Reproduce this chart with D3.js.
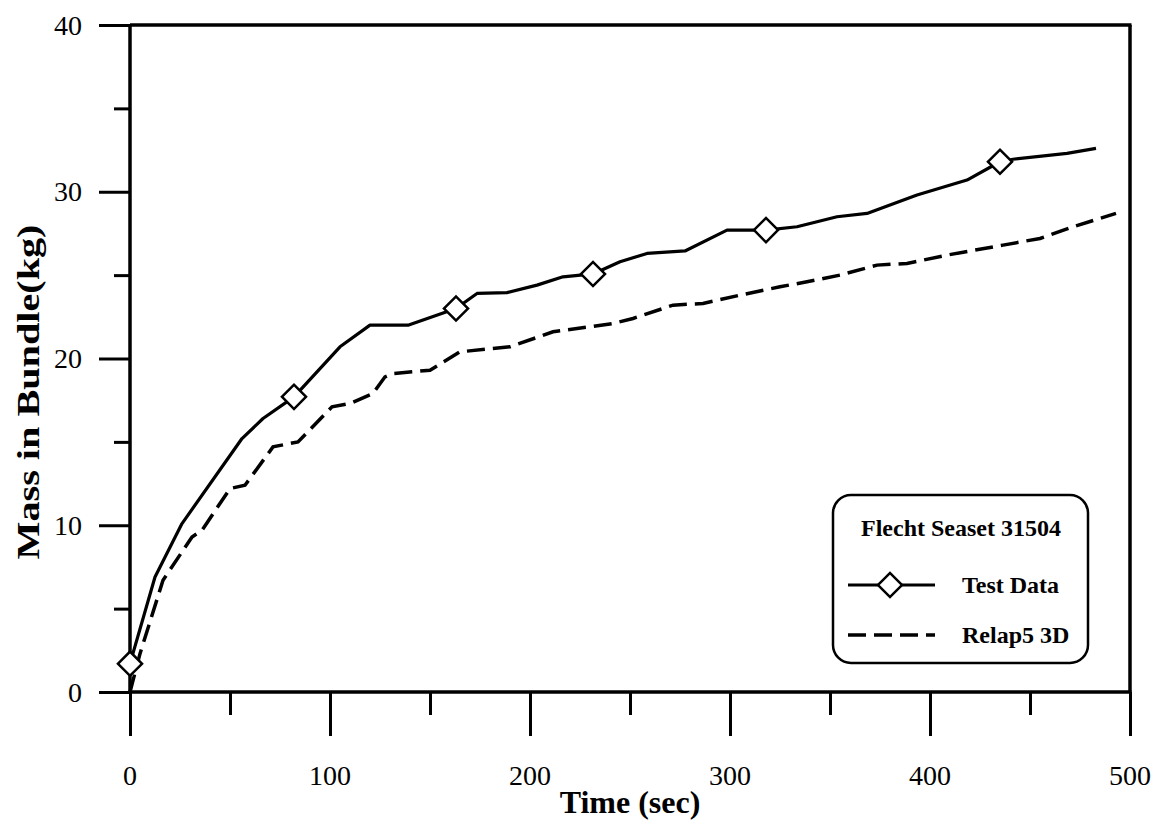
<!DOCTYPE html>
<html>
<head>
<meta charset="utf-8">
<script src="https://d3js.org/d3.v7.min.js"></script>
<style>
  html, body { margin: 0; padding: 0; background: #fff; }
  svg { display: block; font-family: "Liberation Serif", "Times New Roman", serif; }
</style>
</head>
<body>
<div id="chart"></div>
<script>
// Test data (solid line) - time (s), mass (kg)
const testTime = [0, 12.5, 26, 56, 66.5, 82, 105, 120, 139, 163, 173.5, 188.5, 203.5, 216.5, 231.5, 245, 258.5, 277.5, 298.5, 318, 333.5, 353.5, 368.5, 393.5, 418.5, 435, 441.5, 468.5, 483];
const testMass = [1.7, 6.9, 10.1, 15.2, 16.4, 17.7, 20.7, 22.0, 22.0, 23.0, 23.9, 23.95, 24.4, 24.9, 25.07, 25.8, 26.3, 26.45, 27.7, 27.7, 27.9, 28.5, 28.7, 29.8, 30.7, 31.8, 31.95, 32.3, 32.6];
// diamond markers on the test data
const markerTime = [0, 82, 163, 231.5, 318, 435];
const markerMass = [1.7, 17.7, 23.0, 25.07, 27.7, 31.8];

// Relap5 3D (dashed line)
const relapTime = [0, 5, 16.5, 31, 36, 50, 57.5, 71.5, 84, 101, 110, 121.5, 127.5, 131.5, 150, 165, 190, 211.5, 241.5, 251.5, 271.5, 286.5, 305, 325, 338.5, 355, 373.5, 388.5, 408.5, 436.5, 455, 471.5, 493];
const relapMass = [0, 2.3, 6.7, 9.3, 9.7, 12.2, 12.4, 14.7, 15.0, 17.1, 17.3, 17.9, 18.9, 19.1, 19.3, 20.4, 20.7, 21.6, 22.1, 22.4, 23.2, 23.3, 23.8, 24.3, 24.6, 25.0, 25.6, 25.7, 26.2, 26.8, 27.2, 27.9, 28.7];

const xMajor = [0, 100, 200, 300, 400, 500];
const xMinor = [50, 150, 250, 350, 450];
const yMajor = [0, 10, 20, 30, 40];
const yMinor = [5, 15, 25, 35];

const legendTitle = 'Flecht Seaset 31504';
const seriesNames = ['Test Data', 'Relap5 3D'];

const width = 1159, height = 822;
const svg = d3.select('#chart').append('svg')
    .attr('width', width)
    .attr('height', height);

const x = d3.scaleLinear().domain([0, 500]).range([130, 1130]);
const y = d3.scaleLinear().domain([0, 40]).range([692, 25]);

const ink = '#000';

// Axes
const gx = svg.append('g').attr('transform', `translate(0,${y(0)})`);
gx.call(d3.axisBottom(x).tickValues(xMajor).tickSize(44).tickFormat(''));
gx.append('g').call(d3.axisBottom(x).tickValues(xMinor).tickSize(23).tickFormat(''));
gx.selectAll('.domain').remove();
gx.selectAll('line').attr('stroke', ink).attr('stroke-width', 3);

const gy = svg.append('g').attr('transform', `translate(${x(0)},0)`);
gy.call(d3.axisLeft(y).tickValues(yMajor).tickSize(31).tickFormat(''));
gy.append('g').call(d3.axisLeft(y).tickValues(yMinor).tickSize(16).tickFormat(''));
gy.selectAll('.domain').remove();
gy.selectAll('line').attr('stroke', ink).attr('stroke-width', 3);

// frame lines
svg.append('line')
    .attr('x1', x(0)).attr('x2', x(0))
    .attr('y1', y(40)).attr('y2', y(0))
    .attr('stroke', ink).attr('stroke-width', 3.5);
svg.append('line')
    .attr('x1', x(0)).attr('x2', x(500) + 1.5)
    .attr('y1', y(0)).attr('y2', y(0))
    .attr('stroke', ink).attr('stroke-width', 3.5);
svg.append('line')
    .attr('x1', x(0)).attr('x2', x(500) + 1.5)
    .attr('y1', y(40)).attr('y2', y(40))
    .attr('stroke', ink).attr('stroke-width', 3.5);
svg.append('line')
    .attr('x1', x(500)).attr('x2', x(500))
    .attr('y1', y(40)).attr('y2', y(0))
    .attr('stroke', ink).attr('stroke-width', 3.5);

// Tick labels
svg.selectAll('.xlab')
    .data(xMajor)
    .enter()
    .append('text')
    .attr('x', d => x(d))
    .attr('y', 785)
    .attr('text-anchor', 'middle')
    .attr('font-size', '28px')
    .text(d => d);

svg.selectAll('.ylab')
    .data(yMajor)
    .enter()
    .append('text')
    .attr('x', 82)
    .attr('y', d => y(d) + 9.5)
    .attr('text-anchor', 'end')
    .attr('font-size', '28px')
    .text(d => d);

// Axis titles
svg.append('text')
    .attr('x', 630)
    .attr('y', 813)
    .attr('text-anchor', 'middle')
    .attr('font-size', '32px')
    .attr('font-weight', 'bold')
    .text('Time (sec)');

svg.append('text')
    .attr('transform', 'translate(39,392) rotate(-90)')
    .attr('text-anchor', 'middle')
    .attr('font-size', '32px')
    .attr('font-weight', 'bold')
    .attr('textLength', 335)
    .attr('lengthAdjust', 'spacingAndGlyphs')
    .text('Mass in Bundle(kg)');

// Series
const line = d3.line()
    .x(d => x(d[0]))
    .y(d => y(d[1]));

const relapPts = relapTime.map((t, i) => [t, relapMass[i]]);
const testPts = testTime.map((t, i) => [t, testMass[i]]);
const markerPts = markerTime.map((t, i) => [t, markerMass[i]]);

svg.append('path')
    .datum(relapPts)
    .attr('d', line)
    .attr('fill', 'none')
    .attr('stroke', ink)
    .attr('stroke-width', 3.5)
    .attr('stroke-dasharray', '18,8');

svg.append('path')
    .datum(testPts)
    .attr('d', line)
    .attr('fill', 'none')
    .attr('stroke', ink)
    .attr('stroke-width', 3.2)
    .attr('stroke-linejoin', 'round');

const diamond = d3.symbol().type(d3.symbolSquare).size(290);

svg.selectAll('.marker')
    .data(markerPts)
    .enter()
    .append('path')
    .attr('d', diamond)
    .attr('transform', d => `translate(${x(d[0])},${y(d[1])}) rotate(45)`)
    .attr('fill', '#fff')
    .attr('stroke', ink)
    .attr('stroke-width', 2.5);

// Legend
const legend = svg.append('g');
legend.append('rect')
    .attr('x', 833).attr('y', 495)
    .attr('width', 255).attr('height', 168)
    .attr('rx', 18).attr('ry', 18)
    .attr('fill', '#fff')
    .attr('stroke', ink)
    .attr('stroke-width', 2.5);

legend.append('text')
    .attr('x', 961)
    .attr('y', 536)
    .attr('text-anchor', 'middle')
    .attr('font-size', '24px')
    .attr('font-weight', 'bold')
    .text(legendTitle);

legend.append('line')
    .attr('x1', 848).attr('x2', 935)
    .attr('y1', 585).attr('y2', 585)
    .attr('stroke', ink).attr('stroke-width', 3.2);
legend.append('path')
    .attr('d', diamond)
    .attr('transform', 'translate(890,585) rotate(45)')
    .attr('fill', '#fff')
    .attr('stroke', ink)
    .attr('stroke-width', 2.5);
legend.append('line')
    .attr('x1', 848).attr('x2', 935)
    .attr('y1', 635).attr('y2', 635)
    .attr('stroke', ink).attr('stroke-width', 3.5)
    .attr('stroke-dasharray', '18,8');

legend.selectAll('.lt')
    .data(seriesNames)
    .enter()
    .append('text')
    .attr('x', 962)
    .attr('y', (d, i) => 593 + i * 50)
    .attr('font-size', '24px')
    .attr('font-weight', 'bold')
    .text(d => d);
</script>
</body>
</html>
